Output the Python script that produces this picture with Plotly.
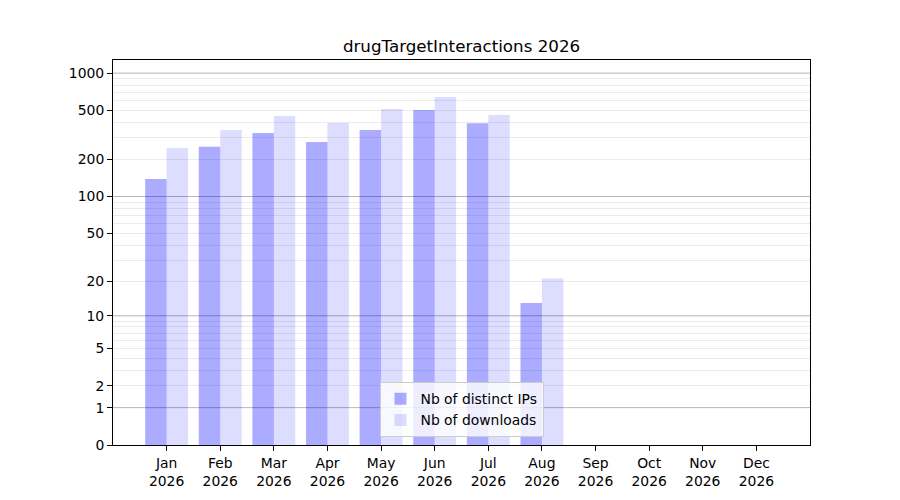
import numpy as np
import plotly.graph_objects as go

months = ["Jan", "Feb", "Mar", "Apr", "May", "Jun", "Jul", "Aug", "Sep", "Oct", "Nov", "Dec"]
year = "2026"
distinct_ips = [139, 253, 327, 277, 346, 502, 393, 13, 0, 0, 0, 0]
downloads = [248, 346, 449, 394, 512, 640, 458, 21, 0, 0, 0, 0]
y_ticks = [0, 1, 2, 5, 10, 20, 50, 100, 200, 500, 1000]
decades = [1, 10, 100, 1000]
minor_vals = [k * 10 ** n for n in range(0, 3) for k in range(2, 10)]


def sl(v):
    # symlog-like transform used for the y axis
    return np.log10(np.asarray(v, dtype=float) + 1)


xs = list(range(len(months)))

fig = go.Figure()
fig.add_trace(go.Bar(x=xs, y=sl(distinct_ips), width=0.4, offset=-0.4,
                     marker=dict(color="rgba(0,0,255,0.33)", line=dict(width=0)),
                     name="Nb of distinct IPs"))
fig.add_trace(go.Bar(x=xs, y=sl(downloads), width=0.4, offset=0.0,
                     marker=dict(color="rgba(0,0,255,0.135)", line=dict(width=0)),
                     name="Nb of downloads"))

for d in decades:
    fig.add_shape(type="line", xref="paper", x0=0, x1=1, y0=float(sl(d)), y1=float(sl(d)),
                  line=dict(color="rgba(0,0,0,0.22)", width=1), layer="above")

fig.update_layout(
    width=900, height=500,
    margin=dict(l=105, r=98, t=52, b=63),
    paper_bgcolor="white", plot_bgcolor="white",
    font=dict(family="DejaVu Sans", size=13.9, color="black"),
    title=dict(text="drugTargetInteractions 2026", x=453.5 / 900, xanchor="center",
               y=1 - 38 / 500, yanchor="middle", font=dict(size=16.7)),
    barmode="overlay",
    showlegend=True,
    legend=dict(x=0.5, xanchor="center", y=0.02, yanchor="bottom",
                bgcolor="rgba(255,255,255,0.8)", bordercolor="#cccccc", borderwidth=1,
                font=dict(size=13.9), tracegroupgap=2),
)
fig.update_xaxes(
    range=[-1, 12], tickmode="array", tickvals=xs,
    ticktext=[f"{m}<br>{year}" for m in months],
    showgrid=False, zeroline=False,
    showline=True, linecolor="black", linewidth=1, mirror=True,
    ticks="outside", ticklen=5, tickcolor="black",
)
fig.update_yaxes(
    range=[0, float(sl(1000)) + 0.105], tickmode="array",
    tickvals=sl(y_ticks), ticktext=[str(t) for t in y_ticks],
    showgrid=True, gridcolor="#ebebeb", zeroline=False,
    showline=True, linecolor="black", linewidth=1, mirror=True,
    ticks="outside", ticklen=5, tickcolor="black",
    minor=dict(tickvals=sl(minor_vals), showgrid=True, gridcolor="#ebebeb", ticks=""),
)

fig.write_html("out.html")
